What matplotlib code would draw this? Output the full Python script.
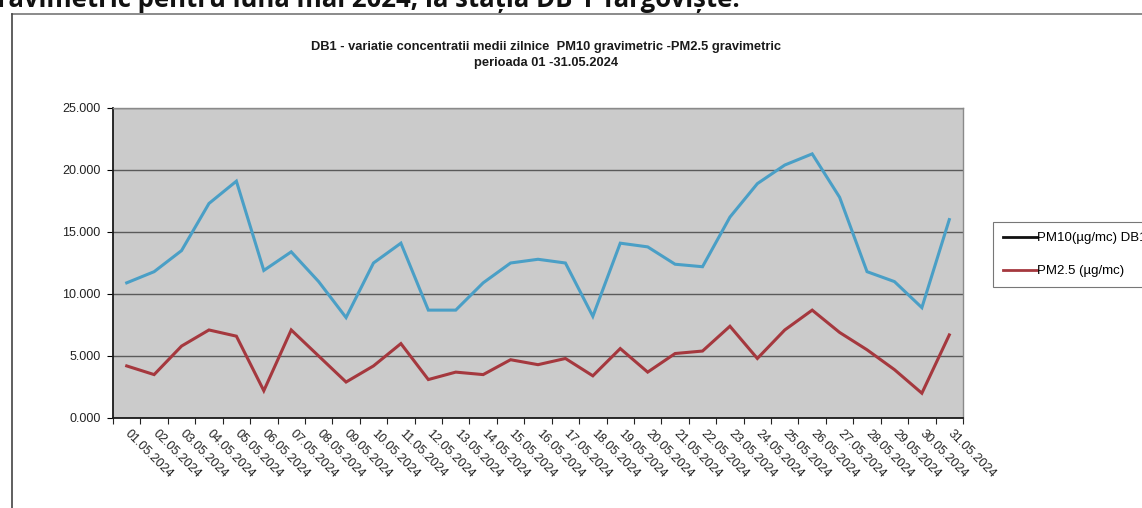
import matplotlib
matplotlib.use("Agg")
import matplotlib.pyplot as plt
from matplotlib.lines import Line2D
from matplotlib.ticker import FuncFormatter

dates = [f"{d:02d}.05.2024" for d in range(1, 32)]
pm10 = [10.9, 11.8, 13.5, 17.3, 19.1, 11.9, 13.4, 11.0, 8.1, 12.5, 14.1, 8.7, 8.7,
        10.9, 12.5, 12.8, 12.5, 8.2, 14.1, 13.8, 12.4, 12.2, 16.2, 18.9, 20.4, 21.3,
        17.8, 11.8, 11.0, 8.9, 16.0]
pm25 = [4.2, 3.5, 5.8, 7.1, 6.6, 2.2, 7.1, 5.0, 2.9, 4.2, 6.0, 3.1, 3.7, 3.5, 4.7,
        4.3, 4.8, 3.4, 5.6, 3.7, 5.2, 5.4, 7.4, 4.8, 7.1, 8.7, 6.9, 5.5, 3.9, 2.0, 6.7]
yticks = [0, 5, 10, 15, 20, 25]

title = ("DB1 - variatie concentratii medii zilnice  PM10 gravimetric -PM2.5 gravimetric\n"
         "perioada 01 -31.05.2024")
label_pm10 = "PM10(µg/mc) DB1"
label_pm25 = "PM2.5 (µg/mc)"
header = "determinate gravimetric pentru luna mai 2024, la stația DB 1 Târgoviște."

plt.rcParams['font.family'] = ['Liberation Sans', 'DejaVu Sans']

W, H = 1142, 508
fig = plt.figure(figsize=(W / 100, H / 100), dpi=100)
fig.patch.set_facecolor('white')

ax = fig.add_axes([113 / W, 1 - 418 / H, (963 - 113) / W, (418 - 108) / H])
ax.set_facecolor('#cbcbcb')

x = list(range(len(dates)))
ax.plot(x, pm10, color='#4a9fc6', lw=2.2, solid_joinstyle='miter')
ax.plot(x, pm25, color='#a5383e', lw=2.2, solid_joinstyle='miter')

ax.set_xlim(-0.5, len(dates) - 0.5)
ax.set_ylim(0, 25)
ax.set_yticks(yticks)
ax.yaxis.set_major_formatter(FuncFormatter(lambda v, p: f"{v:.3f}"))
ax.grid(axis='y', color='#5a5a5a', lw=1.0)
ax.set_axisbelow(True)

ax.set_xticks([i - 0.5 for i in range(len(dates) + 1)], minor=False)
ax.set_xticklabels([])
ax.set_xticks(x, minor=True)
ax.set_xticklabels(dates, minor=True, rotation=-45, ha='left', va='center',
                   rotation_mode='anchor', fontsize=9, color='#222222')
ax.tick_params(axis='x', which='minor', length=0, pad=10)
ax.tick_params(axis='x', which='major', length=4, direction='out', color='#222222')
ax.tick_params(axis='y', length=4, direction='out', labelsize=9, labelcolor='#222222', pad=5)

for s in ['left', 'bottom']:
    ax.spines[s].set_color('#1a1a1a')
    ax.spines[s].set_linewidth(1.3)
for s in ['top', 'right']:
    ax.spines[s].set_color('#8a8a8a')
    ax.spines[s].set_linewidth(1.0)

fig.text(546 / W, 1 - 55 / H, title, ha='center', va='center', fontsize=9.3,
         fontweight='bold', color='#1a1a1a', linespacing=1.5)

handles = [Line2D([0], [0], color='#111111', lw=2),
           Line2D([0], [0], color='#a5383e', lw=2)]
leg = fig.legend(handles, [label_pm10, label_pm25], loc='upper left',
                 bbox_to_anchor=(993 / W, 1 - 222 / H), fontsize=9.5,
                 frameon=True, fancybox=False, edgecolor='#555555',
                 handlelength=2.6, handletextpad=0.0, borderpad=0.75,
                 labelspacing=1.6, borderaxespad=0)
leg.get_frame().set_linewidth(0.8)

# page frame lines from the scanned document
fig.add_artist(Line2D([12 / W, 1], [1 - 14 / H, 1 - 14 / H], color='#777777', lw=1.2))
fig.add_artist(Line2D([12 / W, 12 / W], [0, 1 - 14 / H], color='#444444', lw=1.2))

fig.text(740 / W, 1 - 7 / H, header, ha='right', va='baseline', fontsize=18.5,
         fontweight='bold', color='#111111', family=['Open Sans', 'DejaVu Sans'])

fig.savefig('out.png', dpi=100)
